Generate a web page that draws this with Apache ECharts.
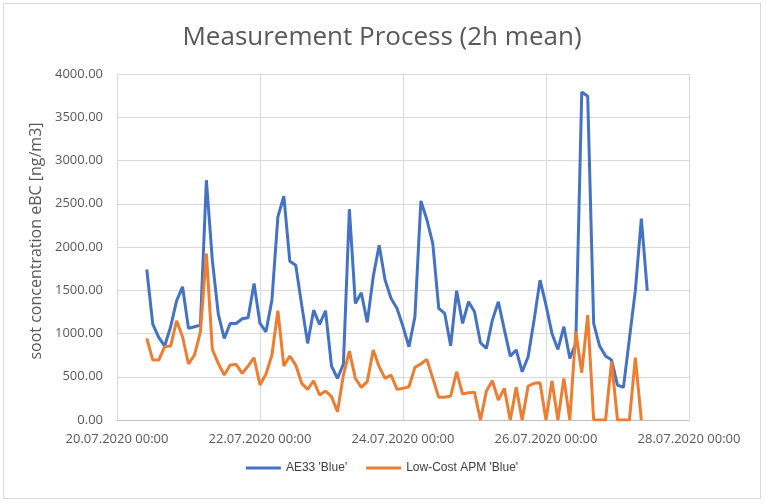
<!DOCTYPE html>
<html>
<head>
<meta charset="utf-8">
<script src="https://cdn.jsdelivr.net/npm/echarts@6/dist/echarts.min.js"></script>
<style>
  html, body { margin: 0; padding: 0; background: #fff; }
  #chart { position: absolute; left: 3px; top: 3px; width: 758px; height: 496px; border: 1px solid #d9d9d9; box-sizing: border-box; }
</style>
</head>
<body>
<div id="chart"></div>
<script>
  // hours since 20.07.2020 00:00, one point every 2h starting at 10:00
  var startHour = 10
  var stepHours = 2
  var tickLabels = ['20.07.2020 00:00', '22.07.2020 00:00', '24.07.2020 00:00', '26.07.2020 00:00', '28.07.2020 00:00']

  var ae33Blue = [
    1740, 1109, 955, 855, 1078, 1378, 1540, 1059, 1078, 1097,
    2772, 1848, 1224, 943, 1116, 1116, 1170, 1182, 1578, 1116,
    1020, 1386, 2349, 2587, 1836, 1790, 1328, 886, 1270, 1105,
    1263, 624, 481, 647, 2437, 1348, 1471, 1128, 1655, 2021,
    1617, 1405, 1290, 1080, 847, 1193, 2533, 2318, 2040, 1290,
    1232, 858, 1494, 1116, 1367, 1251, 893, 828, 1155, 1367,
    1047, 739, 809, 558, 732, 1155, 1617, 1328, 1001, 816,
    1078, 712, 886, 3792, 3742, 1116, 855, 739, 693, 404,
    377, 940, 1501, 2329, 1494
  ]
  var apmBlue = [
    943, 693, 693, 847, 855, 1147, 962, 647, 751, 1020,
    1925, 816, 655, 520, 635, 643, 539, 624, 720, 404,
    530, 751, 1263, 624, 740, 635, 424, 354, 454, 289,
    335, 270, 96, 520, 797, 481, 377, 443, 809, 616,
    481, 520, 354, 366, 385, 608, 647, 701, 481, 262,
    262, 277, 558, 300, 316, 320, 0, 335, 454, 231,
    366, 0, 377, 0, 393, 424, 431, 0, 454, 0,
    481, 0, 1020, 547, 1213, 0, 0, 0, 674, 0,
    0, 0, 720, 0, null
  ]

  function toPairs(arr) {
    return arr.map(function (v, i) { return [startHour + i * stepHours, v] })
  }

  var myChart = echarts.init(document.getElementById('chart'))
  var grey = '#595959'
  myChart.setOption({
    animation: false,
    title: {
      text: 'Measurement Process (2h mean)',
      left: 'center',
      top: 16,
      textStyle: { fontFamily: 'Open Sans', fontSize: 26, fontWeight: 'normal', color: grey }
    },
    legend: {
      bottom: 19,
      left: 'center',
      icon: 'rect',
      itemWidth: 35,
      itemHeight: 3,
      itemGap: 19,
      textStyle: { fontFamily: 'Liberation Sans', fontSize: 12, color: '#404040' },
      data: ["AE33 'Blue'", "Low-Cost APM 'Blue'"]
    },
    grid: { left: 113, right: 71, top: 70, bottom: 78 },
    xAxis: {
      type: 'value',
      min: 0,
      max: 192,
      interval: 48,
      axisLine: { lineStyle: { color: '#bfbfbf' } },
      axisTick: { show: false },
      splitLine: { show: true, lineStyle: { color: '#d9d9d9' } },
      axisLabel: {
        margin: 13,
        fontFamily: 'Open Sans',
        fontSize: 13,
        color: grey,
        formatter: function (v) { return tickLabels[v / 48] }
      }
    },
    yAxis: {
      type: 'value',
      min: 0,
      max: 4000,
      interval: 500,
      name: 'soot concentration eBC [ng/m3]',
      nameLocation: 'middle',
      nameGap: 70,
      nameTextStyle: { fontFamily: 'Open Sans', fontSize: 16, color: grey, padding: [0, 0, 0, 12] },
      axisLine: { show: true, lineStyle: { color: '#d9d9d9' } },
      axisTick: { show: false },
      splitLine: { lineStyle: { color: '#d9d9d9' } },
      axisLabel: {
        margin: 14,
        fontFamily: 'Open Sans',
        fontSize: 13,
        color: grey,
        formatter: function (v) { return v.toFixed(2) }
      }
    },
    series: [
      {
        name: "AE33 'Blue'",
        type: 'line',
        showSymbol: false,
        lineStyle: { width: 3, color: '#4472c4' },
        itemStyle: { color: '#4472c4' },
        data: toPairs(ae33Blue)
      },
      {
        name: "Low-Cost APM 'Blue'",
        type: 'line',
        showSymbol: false,
        lineStyle: { width: 3, color: '#ed7d31' },
        itemStyle: { color: '#ed7d31' },
        data: toPairs(apmBlue)
      }
    ]
  })
</script>
</body>
</html>
